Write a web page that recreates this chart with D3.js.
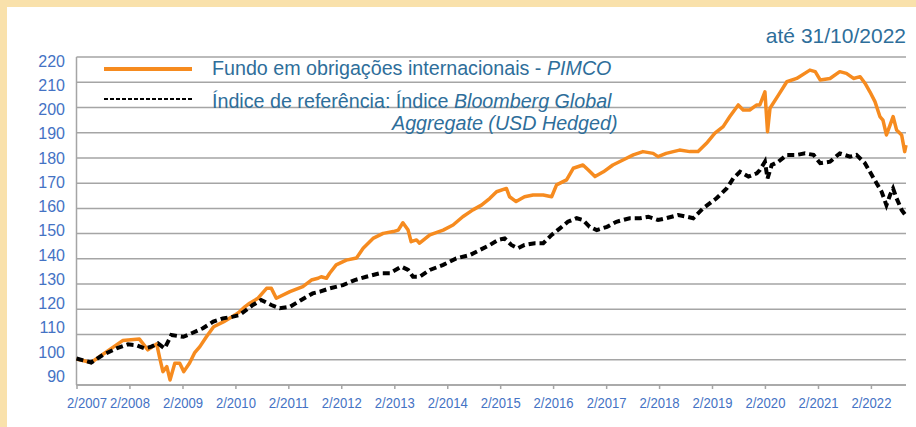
<!DOCTYPE html>
<html><head><meta charset="utf-8">
<script src="https://cdn.jsdelivr.net/npm/d3@7"></script>
<style>
html,body{margin:0;padding:0;background:#fff;}
svg{display:block;font-family:"Liberation Sans",Arial,sans-serif;}
</style></head><body>
<svg id="chart" width="916" height="427"></svg>
<script>
// ---- data ----
const fundDates = ["2007-02-01","2007-05-13","2007-12-16","2008-04-10","2008-06-07","2008-08-07","2008-08-28","2008-09-19","2008-10-16","2008-11-07","2008-12-10","2009-01-13","2009-02-10","2009-03-22","2009-04-25","2009-06-01","2009-07-16","2009-09-04","2009-11-13","2010-01-28","2010-03-01","2010-04-07","2010-05-10","2010-07-07","2010-09-04","2010-10-07","2010-11-10","2011-02-12","2011-05-12","2011-07-10","2011-08-25","2011-09-16","2011-10-22","2011-11-13","2011-12-28","2012-03-07","2012-05-16","2012-07-01","2012-09-07","2012-11-16","2013-01-25","2013-02-28","2013-04-01","2013-05-07","2013-05-28","2013-07-04","2013-07-25","2013-10-04","2014-01-04","2014-03-13","2014-05-19","2014-07-28","2014-09-25","2014-11-22","2015-01-07","2015-03-16","2015-04-07","2015-05-22","2015-07-19","2015-09-16","2015-11-25","2016-01-22","2016-02-25","2016-05-04","2016-06-19","2016-08-25","2016-10-01","2016-11-16","2017-01-13","2017-03-19","2017-05-28","2017-08-07","2017-10-13","2017-12-22","2018-01-25","2018-03-22","2018-06-22","2018-09-01","2018-10-28","2018-12-25","2019-02-21","2019-04-19","2019-06-04","2019-08-01","2019-09-04","2019-10-19","2019-12-07","2019-12-28","2020-02-01","2020-02-19","2020-03-07","2020-05-04","2020-07-01","2020-09-07","2020-12-07","2021-01-13","2021-02-16","2021-04-25","2021-07-01","2021-08-16","2021-10-04","2021-11-19","2021-12-22","2022-01-25","2022-03-01","2022-04-04","2022-04-25","2022-05-19","2022-06-13","2022-07-04","2022-07-28","2022-09-01","2022-09-22","2022-10-01"];
const fundValues = [100.3,98.9,107.6,108.2,103.9,106.3,100.7,95.3,97.3,92.0,98.6,98.6,95.3,98.7,102.7,105.2,109.1,113.1,115.1,117.7,119.0,121.0,122.4,124.4,128.3,128.3,124.4,127.0,129.0,131.6,132.3,132.9,132.3,134.3,137.6,139.5,140.3,144.2,148.1,150.1,150.8,151.4,154.3,151.4,146.8,147.5,146.2,149.5,151.4,153.4,156.7,159.4,161.3,164.0,166.6,167.9,164.6,162.7,164.6,165.3,165.3,164.6,169.3,171.3,175.9,177.2,175.2,172.6,174.5,177.2,179.2,181.2,182.5,181.8,180.5,181.8,183.1,182.5,182.5,185.8,189.8,192.4,196.4,201.0,199.0,199.0,201.0,201.0,206.2,190.4,199.7,204.9,210.2,211.5,214.8,214.2,210.9,211.5,214.2,213.5,211.5,212.2,209.6,206.2,202.3,196.4,195.0,189.1,193.0,196.4,191.1,189.1,182.5,185.1];

const indexDates = ["2007-02-01","2007-05-13","2007-08-01","2007-11-04","2008-01-22","2008-03-19","2008-05-16","2008-07-01","2008-08-16","2008-10-01","2008-11-16","2009-02-07","2009-04-13","2009-06-22","2009-09-01","2009-11-07","2010-01-16","2010-03-01","2010-06-01","2010-07-28","2010-10-07","2010-12-04","2011-02-12","2011-05-01","2011-07-19","2011-09-07","2011-11-13","2012-02-13","2012-05-04","2012-07-22","2012-10-25","2013-01-01","2013-03-22","2013-05-07","2013-06-10","2013-07-25","2013-10-04","2014-01-04","2014-04-04","2014-07-07","2014-09-13","2014-11-22","2015-01-19","2015-03-04","2015-04-19","2015-06-04","2015-07-19","2015-09-28","2015-11-25","2016-01-22","2016-03-19","2016-05-13","2016-07-13","2016-08-25","2016-10-10","2016-11-28","2017-02-07","2017-04-13","2017-07-13","2017-09-22","2017-11-19","2018-01-25","2018-03-22","2018-06-13","2018-08-10","2018-09-25","2018-12-01","2019-03-04","2019-05-13","2019-06-28","2019-08-13","2019-10-10","2019-12-07","2019-12-28","2020-02-01","2020-02-19","2020-03-19","2020-05-04","2020-07-01","2020-09-07","2020-11-04","2021-01-01","2021-02-16","2021-04-25","2021-07-01","2021-09-10","2021-10-25","2021-12-22","2022-02-07","2022-03-13","2022-04-16","2022-05-19","2022-06-13","2022-07-04","2022-07-28","2022-09-01","2022-10-01"];
const indexValues = [100.5,98.9,101.9,104.5,106.1,105.8,104.5,105.2,106.5,104.5,109.8,109.1,110.7,112.5,115.1,116.4,117.1,117.7,121.7,123.7,121.7,120.4,121.0,123.7,126.3,127.0,128.3,129.6,131.6,132.9,134.3,134.3,136.9,135.6,132.9,132.9,135.6,137.6,140.2,141.5,143.5,145.5,147.5,148.1,145.5,144.2,145.5,146.2,146.2,149.5,152.1,154.7,156.1,155.4,152.7,151.4,152.7,154.7,156.1,156.1,156.7,155.4,156.1,157.4,156.7,156.1,160.0,164.0,167.9,171.9,174.5,172.6,173.9,175.2,178.5,171.9,177.2,178.5,181.2,181.2,181.8,181.2,177.9,178.5,181.8,180.5,181.2,177.9,173.2,169.9,166.6,161.3,165.3,167.9,164.0,159.4,157.0];

const yTickValues = [90,100,110,120,130,140,150,160,170,180,190,200,210,220];
const xTickDates = ["2007-02-01","2008-02-01","2009-02-01","2010-02-01","2011-02-01","2012-02-01","2013-02-01","2014-02-01","2015-02-01","2016-02-01","2017-02-01","2018-02-01","2019-02-01","2020-02-01","2021-02-01","2022-02-01"];
const xTickLabels = ["2/2007","2/2008","2/2009","2/2010","2/2011","2/2012","2/2013","2/2014","2/2015","2/2016","2/2017","2/2018","2/2019","2/2020","2/2021","2/2022"];
const titleText = "até 31/10/2022";
const legendFund = ["Fundo em obrigações internacionais - ", "PIMCO"];
const legendIndex1 = ["Índice de referência: Índice ", "Bloomberg Global"];
const legendIndex2 = "Aggregate (USD Hedged)";

// ---- drawing ----
const parse = d3.timeParse("%Y-%m-%d");
const svg = d3.select("#chart");
const W = 916, H = 427;
svg.append("rect").attr("width", W).attr("height", H).attr("fill", "#f9e1ab");
svg.append("rect").attr("x", 7).attr("y", 7).attr("width", W - 7).attr("height", H - 7).attr("fill", "#ffffff");

const pLeft = 76.5, pRight = 906, pTop = 57, pBottom = 385;
const x = d3.scaleTime().domain([parse("2007-02-01"), parse("2022-10-01")]).range([pLeft, pRight]);
const y = d3.scaleLinear().domain([90, 220]).range([pBottom, pTop]);
const yLab = d3.scaleLinear().domain([90, 220]).range([376, 61]);

const gridColor = "#a5a5a5";
svg.append("g").selectAll("line").data(yTickValues).join("line")
  .attr("x1", pLeft).attr("x2", pRight)
  .attr("y1", d => y(d)).attr("y2", d => y(d))
  .attr("stroke", gridColor).attr("stroke-width", 1.5);
svg.append("line").attr("x1", pLeft).attr("x2", pLeft).attr("y1", pTop).attr("y2", pBottom)
  .attr("stroke", gridColor).attr("stroke-width", 1.5);

svg.append("g").selectAll("text").data(yTickValues).join("text")
  .attr("x", 65).attr("y", d => yLab(d)).attr("dy", "0.36em")
  .attr("text-anchor", "end").attr("fill", "#4472c4").attr("font-size", 16)
  .text(d => d);

const xTicks = xTickDates.map(parse);
const xAxis = d3.axisBottom(x).tickValues(xTicks).tickSize(4).tickPadding(8)
  .tickFormat((d, i) => xTickLabels[i]);
const gx = svg.append("g").attr("transform", `translate(0,${pBottom})`).call(xAxis);
gx.select(".domain").attr("stroke", gridColor).attr("stroke-width", 1.5).attr("d", `M${pLeft},0H${pRight}`);
gx.selectAll(".tick line").attr("stroke", gridColor).attr("stroke-width", 1.5);
gx.selectAll(".tick text").attr("fill", "#4472c4").attr("font-size", 15.5)
  .attr("font-family", '"Liberation Sans", Arial, sans-serif')
  .attr("textLength", 40).attr("lengthAdjust", "spacingAndGlyphs")
  .attr("dx", (d, i) => i === 0 ? 10 : 0);

const fundData = fundDates.map((d, i) => ({ date: parse(d), value: fundValues[i] }));
const indexData = indexDates.map((d, i) => ({ date: parse(d), value: indexValues[i] }));
const line = d3.line().x(d => x(d.date)).y(d => y(d.value));

svg.append("path").datum(fundData).attr("d", line)
  .attr("fill", "none").attr("stroke", "#f68b1f").attr("stroke-width", 3.5)
  .attr("stroke-linejoin", "round");
svg.append("path").datum(indexData).attr("d", line)
  .attr("fill", "none").attr("stroke", "#000").attr("stroke-width", 4)
  .attr("stroke-dasharray", "7,4");

svg.append("text").attr("x", 906).attr("y", 43).attr("text-anchor", "end")
  .attr("fill", "#2e6e9a").attr("font-size", 21).text(titleText);

const legColor = "#2e6e9a";
svg.append("line").attr("x1", 104).attr("x2", 192).attr("y1", 69).attr("y2", 69)
  .attr("stroke", "#f68b1f").attr("stroke-width", 4);
const t1 = svg.append("text").attr("x", 212).attr("y", 75).attr("fill", legColor).attr("font-size", 19.7);
t1.append("tspan").text(legendFund[0]);
t1.append("tspan").attr("font-style", "italic").text(legendFund[1]);

svg.append("line").attr("x1", 104).attr("x2", 192).attr("y1", 99).attr("y2", 99)
  .attr("stroke", "#000").attr("stroke-width", 2).attr("stroke-dasharray", "4,2");
const t2 = svg.append("text").attr("x", 212).attr("y", 108).attr("fill", legColor).attr("font-size", 19.7);
t2.append("tspan").text(legendIndex1[0]);
t2.append("tspan").attr("font-style", "italic").text(legendIndex1[1]);
svg.append("text").attr("x", 392).attr("y", 130).attr("fill", legColor).attr("font-size", 19.7)
  .attr("font-style", "italic").text(legendIndex2);
</script>
</body></html>
